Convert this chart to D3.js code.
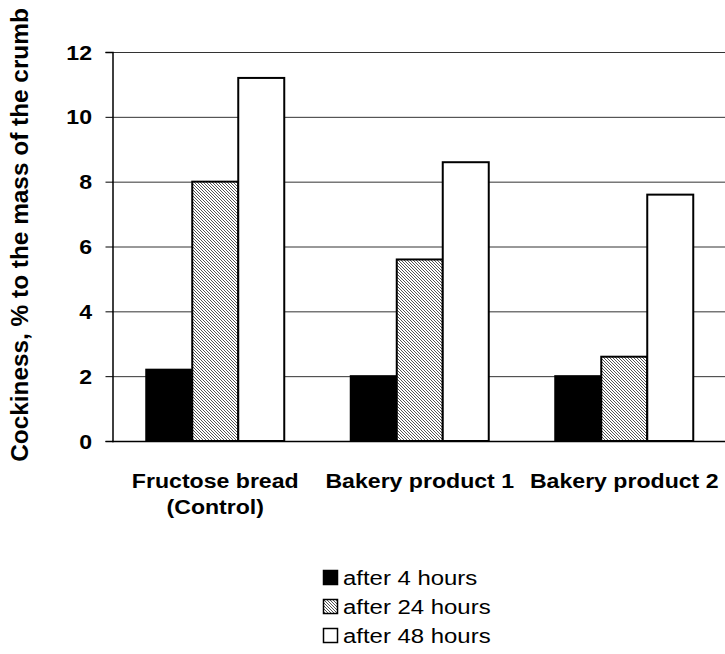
<!DOCTYPE html>
<html><head><meta charset="utf-8">
<script src="https://cdn.jsdelivr.net/npm/d3@7"></script>
<style>body{margin:0;background:#fff}svg{display:block;font-family:"Liberation Sans",Arial,sans-serif}</style>
</head><body><svg id="c" width="725" height="654"></svg>
<script>
const categories = [["Fructose bread","(Control)"],["Bakery product 1"],["Bakery product 2"]];
const seriesNames = ["after 4 hours","after 24 hours","after 48 hours"];
const after4 = [2.2, 2.0, 2.0];
const after24 = [8.0, 5.6, 2.6];
const after48 = [11.2, 8.6, 7.6];
const yTicks = [0,2,4,6,8,10,12];
const yTitle = "Cockiness, % to the mass of the crumb";
const series = [after4, after24, after48];
const fills = ["#000", "url(#hatch)", "#fff"];

const svg = d3.select("#c");
const defs = svg.append("defs");
const pat = defs.append("pattern").attr("id","hatch").attr("patternUnits","userSpaceOnUse")
  .attr("width",3).attr("height",3);
pat.append("rect").attr("width",3).attr("height",3).attr("fill","#fff");
pat.append("path").attr("d","M-1,-1 L4,4 M-1,2 L1,4 M2,-1 L4,1").attr("stroke","#555").attr("stroke-width",1);

const L=112, R=725.5, T=52, B=441;
const x = d3.scaleBand().domain(d3.range(categories.length)).range([L,R]);
const y = d3.scaleLinear().domain([0,12]).range([B,T]);
const barW = 46;

function txt(px, py, s, size, weight, anchor, sx, rot){
  const g = svg.append("g").attr("transform",`translate(${px},${py})${rot?` rotate(${rot})`:""} scale(${sx},1)`);
  return g.append("text").attr("x",0).attr("y",0).attr("font-size",size).attr("font-weight",weight)
    .attr("text-anchor",anchor).attr("fill","#000").text(s);
}

// gridlines
svg.append("g").selectAll("line").data(yTicks.filter(d=>d>0)).join("line")
  .attr("x1",L).attr("x2",725).attr("y1",d=>y(d)+0.5).attr("y2",d=>y(d)+0.5)
  .attr("stroke","#333").attr("stroke-width",1);

// y axis
const ya = svg.append("g").attr("transform",`translate(${L+0.5},0)`)
  .call(d3.axisLeft(y).tickValues(yTicks).tickSize(7).tickFormat(""));
ya.select(".domain").attr("stroke","#000").attr("stroke-width",1.5);
ya.selectAll(".tick line").attr("stroke","#000");
yTicks.forEach(t=>txt(92, y(t)+7.5, d3.format("d")(t), 21, "bold", "end", 1.1));

// bars
categories.forEach((c,i)=>{
  const cx = x(i)+x.bandwidth()/2 + 1;
  series.forEach((s,j)=>{
    const x0 = cx - 1.5*barW + j*barW;
    svg.append("rect").attr("x",x0).attr("y",y(s[i])).attr("width",barW).attr("height",B-y(s[i]))
      .attr("fill",fills[j]).attr("stroke","#000").attr("stroke-width",2);
  });
});

// baseline
svg.append("line").attr("x1",L).attr("x2",725).attr("y1",B+0.5).attr("y2",B+0.5).attr("stroke","#000").attr("stroke-width",1.5);

// x labels
categories.forEach((c,i)=>{
  c.forEach((line,k)=>txt(x(i)+x.bandwidth()/2 + 1, 488 + k*26, line, 21, "bold", "middle", 1.1));
});

// y title
txt(28, 235, yTitle, 23, "bold", "middle", 1.06, -90);

// legend
seriesNames.forEach((n,j)=>{
  const yy = 570 + j*29;
  svg.append("rect").attr("x",323.5).attr("y",yy+0.5).attr("width",14).attr("height",14)
    .attr("fill",fills[j]).attr("stroke","#000").attr("stroke-width",1.5);
  txt(343, yy+15, n, 21, "normal", "start", 1.14);
});
</script></body></html>
